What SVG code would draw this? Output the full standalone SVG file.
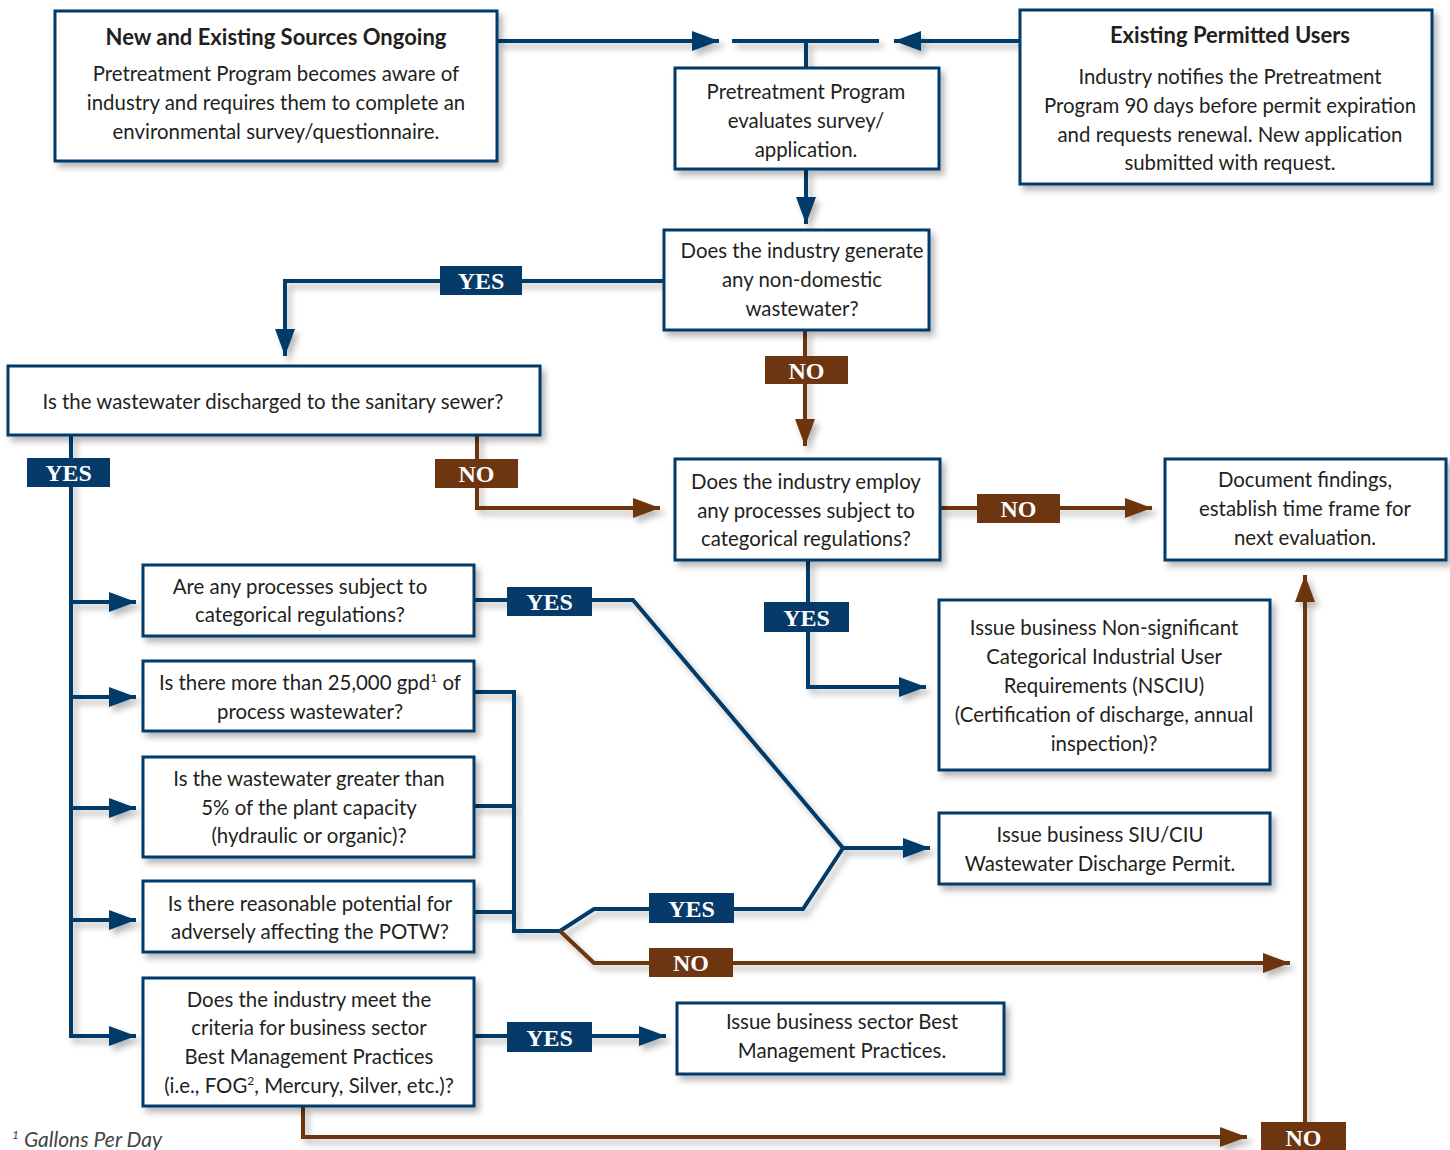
<svg xmlns="http://www.w3.org/2000/svg" width="1450" height="1150" viewBox="0 0 1450 1150">
<defs>
<filter id="sh" x="-10%" y="-10%" width="130%" height="140%">
<feDropShadow dx="4" dy="5" stdDeviation="3" flood-color="#000" flood-opacity="0.28"/>
</filter>
<marker id="an" viewBox="0 0 27 20" refX="27" refY="10" markerWidth="27" markerHeight="20" markerUnits="userSpaceOnUse" orient="auto">
<path d="M0,0 L27,10 L0,20 Z" fill="#063b69"/>
</marker>
<marker id="ab" viewBox="0 0 27 20" refX="27" refY="10" markerWidth="27" markerHeight="20" markerUnits="userSpaceOnUse" orient="auto">
<path d="M0,0 L27,10 L0,20 Z" fill="#6d3510"/>
</marker>
</defs>
<style>
.box{fill:#fff;stroke:#063b69;stroke-width:3}
.t{font-family:Lato,"Liberation Sans",sans-serif;font-size:20.4px;fill:#231f20;text-anchor:middle}
.b{font-weight:bold;font-size:22px}
.n{fill:none;stroke:#063b69;stroke-width:4}
.r{fill:none;stroke:#6d3510;stroke-width:4}
.ly{fill:#063b69}
.lr{fill:#6d3510}
.lt{font-family:"Liberation Serif",serif;font-weight:bold;font-size:24px;fill:#fff;text-anchor:middle}
.fn{font-family:Lato,"Liberation Sans",sans-serif;font-style:italic;font-size:21px;fill:#444}
</style>
<rect width="1450" height="1150" fill="#fff"/>

<g id="connectors" filter="url(#sh)">
<path class="n" d="M497,41 H719" marker-end="url(#an)"/>
<path class="n" d="M732,41 H879 M806,41 V68"/>
<path class="n" d="M1020,41 H894" marker-end="url(#an)"/>
<path class="n" d="M806,169 V224" marker-end="url(#an)"/>
<path class="n" d="M664,281 H285 V356" marker-end="url(#an)"/>
<path class="n" d="M71,435 V1036 H136" marker-end="url(#an)"/>
<path class="n" d="M71,602 H136" marker-end="url(#an)"/>
<path class="n" d="M71,697 H136" marker-end="url(#an)"/>
<path class="n" d="M71,808 H136" marker-end="url(#an)"/>
<path class="n" d="M71,920 H136" marker-end="url(#an)"/>
<path class="n" d="M808,560 V687 H926" marker-end="url(#an)"/>
<path class="n" d="M474,600 H633 L843,848 H930" marker-end="url(#an)"/>
<path class="n" d="M474,692 H514 V931 H560 L594,909 H803 L843,848"/>
<path class="n" d="M474,806 H514 M474,912 H514"/>
<path class="n" d="M474,1036 H666" marker-end="url(#an)"/>
<path class="r" d="M805,330 V446" marker-end="url(#ab)"/>
<path class="r" d="M477,435 V508 H660" marker-end="url(#ab)"/>
<path class="r" d="M940,508 H1152" marker-end="url(#ab)"/>
<path class="r" d="M560,931 L594,963 H1290" marker-end="url(#ab)"/>
<path class="r" d="M303,1106 V1137 H1247" marker-end="url(#ab)"/>
<path class="r" d="M1305,1150 V575" marker-end="url(#ab)"/>
</g>

<g id="labels">
<rect class="ly" x="440" y="266" width="82" height="29"/><text class="lt" x="481" y="289">YES</text>
<rect class="ly" x="27" y="458" width="83" height="29"/><text class="lt" x="68.5" y="481">YES</text>
<rect class="ly" x="764" y="602" width="85" height="30"/><text class="lt" x="806.5" y="626">YES</text>
<rect class="ly" x="507" y="587" width="85" height="29"/><text class="lt" x="549.5" y="610">YES</text>
<rect class="ly" x="649" y="893" width="85" height="30"/><text class="lt" x="691.5" y="917">YES</text>
<rect class="ly" x="507" y="1022" width="85" height="30"/><text class="lt" x="549.5" y="1046">YES</text>
<rect class="lr" x="765" y="356" width="83" height="28"/><text class="lt" x="806.5" y="379">NO</text>
<rect class="lr" x="435" y="459" width="83" height="29"/><text class="lt" x="476.5" y="482">NO</text>
<rect class="lr" x="977" y="494" width="83" height="29"/><text class="lt" x="1018.5" y="517">NO</text>
<rect class="lr" x="649" y="948" width="84" height="29"/><text class="lt" x="691" y="971">NO</text>
<rect class="lr" x="1261" y="1122" width="85" height="28"/><text class="lt" x="1303.5" y="1146">NO</text>
</g>

<g id="n1"><rect class="box" x="55" y="11" width="442" height="150" filter="url(#sh)"/>
<text class="t b" x="276" y="45">New and Existing Sources Ongoing</text>
<text class="t" x="276" y="81">Pretreatment Program becomes aware of</text>
<text class="t" x="276" y="110">industry and requires them to complete an</text>
<text class="t" x="276" y="139">environmental survey/questionnaire.</text>
</g>

<g id="n2"><rect class="box" x="675" y="68" width="264" height="101" filter="url(#sh)"/>
<text class="t" x="806" y="99">Pretreatment Program</text>
<text class="t" x="806" y="128">evaluates survey/</text>
<text class="t" x="806" y="157">application.</text>
</g>

<g id="n3"><rect class="box" x="1020" y="10" width="412" height="174" filter="url(#sh)"/>
<text class="t b" x="1230" y="43">Existing Permitted Users</text>
<text class="t" x="1230" y="84">Industry notifies the Pretreatment</text>
<text class="t" x="1230" y="113">Program 90 days before permit expiration</text>
<text class="t" x="1230" y="142">and requests renewal. New application</text>
<text class="t" x="1230" y="170">submitted with request.</text>
</g>

<g id="n4"><rect class="box" x="664" y="230" width="265" height="100" filter="url(#sh)"/>
<text class="t" x="802" y="258">Does the industry generate</text>
<text class="t" x="802" y="287">any non-domestic</text>
<text class="t" x="802" y="316">wastewater?</text>
</g>

<g id="n5"><rect class="box" x="8" y="366" width="532" height="69" filter="url(#sh)"/>
<text class="t" x="273" y="409">Is the wastewater discharged to the sanitary sewer?</text>
</g>

<g id="n6"><rect class="box" x="675" y="459" width="265" height="101" filter="url(#sh)"/>
<text class="t" x="806" y="489">Does the industry employ</text>
<text class="t" x="806" y="518">any processes subject to</text>
<text class="t" x="806" y="546">categorical regulations?</text>
</g>

<g id="n7"><rect class="box" x="1165" y="459" width="281" height="101" filter="url(#sh)"/>
<text class="t" x="1305" y="487">Document findings,</text>
<text class="t" x="1305" y="516">establish time frame for</text>
<text class="t" x="1305" y="545">next evaluation.</text>
</g>

<g id="n8"><rect class="box" x="143" y="565" width="331" height="71" filter="url(#sh)"/>
<text class="t" x="300" y="594">Are any processes subject to</text>
<text class="t" x="300" y="622">categorical regulations?</text>
</g>

<g id="n9"><rect class="box" x="143" y="661" width="331" height="70" filter="url(#sh)"/>
<text class="t" x="310" y="690">Is there more than 25,000 gpd<tspan font-size="12" dy="-8">1</tspan><tspan dy="8"> of</tspan></text>
<text class="t" x="310" y="719">process wastewater?</text>
</g>

<g id="n10"><rect class="box" x="143" y="757" width="331" height="100" filter="url(#sh)"/>
<text class="t" x="309" y="786">Is the wastewater greater than</text>
<text class="t" x="309" y="815">5% of the plant capacity</text>
<text class="t" x="309" y="843">(hydraulic or organic)?</text>
</g>

<g id="n11"><rect class="box" x="143" y="881" width="331" height="71" filter="url(#sh)"/>
<text class="t" x="310" y="911">Is there reasonable potential for</text>
<text class="t" x="310" y="939">adversely affecting the POTW?</text>
</g>

<g id="n12"><rect class="box" x="143" y="978" width="331" height="128" filter="url(#sh)"/>
<text class="t" x="309" y="1007">Does the industry meet the</text>
<text class="t" x="309" y="1035">criteria for business sector</text>
<text class="t" x="309" y="1064">Best Management Practices</text>
<text class="t" x="309" y="1093">(i.e., FOG<tspan font-size="12" dy="-8">2</tspan><tspan dy="8">, Mercury, Silver, etc.)?</tspan></text>
</g>

<g id="n13"><rect class="box" x="939" y="600" width="331" height="170" filter="url(#sh)"/>
<text class="t" x="1104" y="635">Issue business Non-significant</text>
<text class="t" x="1104" y="664">Categorical Industrial User</text>
<text class="t" x="1104" y="693">Requirements (NSCIU)</text>
<text class="t" x="1104" y="722">(Certification of discharge, annual</text>
<text class="t" x="1104" y="751">inspection)?</text>
</g>

<g id="n14"><rect class="box" x="939" y="813" width="331" height="71" filter="url(#sh)"/>
<text class="t" x="1100" y="842">Issue business SIU/CIU</text>
<text class="t" x="1100" y="871">Wastewater Discharge Permit.</text>
</g>

<g id="n15"><rect class="box" x="677" y="1003" width="327" height="71" filter="url(#sh)"/>
<text class="t" x="842" y="1029">Issue business sector Best</text>
<text class="t" x="842" y="1058">Management Practices.</text>
</g>

<text class="fn" x="12" y="1147"><tspan font-size="12" dy="-8">1</tspan><tspan dy="8"> Gallons Per Day</tspan></text>
</svg>
